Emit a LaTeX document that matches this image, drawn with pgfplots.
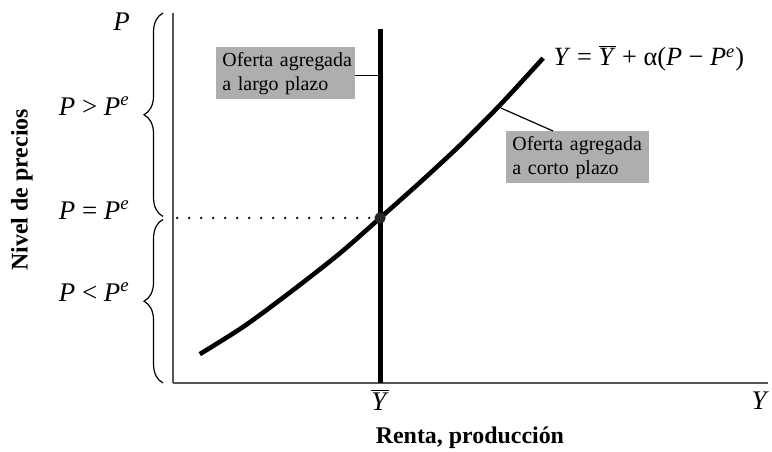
\documentclass[border=0pt]{standalone}
\usepackage{fontspec}
\setmainfont{Liberation Serif}
\usepackage{pgfplots}
\pgfplotsset{compat=1.18}
\usetikzlibrary{decorations.pathreplacing}

\definecolor{boxgray}{HTML}{AEAEAE}
\definecolor{axgray}{HTML}{555555}
\newcommand{\lab}[1]{\fontsize{13.5}{14}\selectfont #1}
\newcommand{\ybar}{$\overline{\mbox{\textit{Y}}}$}

\begin{document}
\begin{tikzpicture}
\begin{axis}[
  scale only axis,
  width=297.5bp, height=185bp,
  xmin=0, xmax=100, ymin=0, ymax=100,
  axis lines=left,
  axis line style={-, axgray, line width=0.75bp},
  xtick=\empty, ytick=\empty,
  clip=false,
]
  % short-run aggregate supply
  \addplot[black, line width=2.3bp, smooth] coordinates {
    (4.5,7.8) (12,15.4) (20,24.9) (28,35.0) (34.8,44.6) (41.5,54.2)
    (48.2,64.2) (55,75.2) (62.2,87.8)};
  % long-run aggregate supply
  \addplot[black, line width=2.5bp] coordinates {(34.8,0) (34.8,95.7)};
  % expected price level
  \addplot[black, line width=1.3bp, line cap=round, dash pattern=on 0pt off 6bp]
    coordinates {(0.7,44.6) (34.0,44.6)};
  \addplot[only marks, mark=*, mark size=2.6bp, color=black!85] coordinates {(34.8,44.6)};

  % braces on the price axis
  \draw[line width=0.6bp, decorate, decoration={brace, amplitude=9.5bp}]
    (axis cs:-1.68,45.0) -- (axis cs:-1.68,100);
  \draw[line width=0.6bp, decorate, decoration={brace, amplitude=9.5bp}]
    (axis cs:-1.68,0) -- (axis cs:-1.68,44.2);

  \begin{scope}[every node/.style={inner sep=0pt}]
  \node[anchor=east] at (axis cs:-7.2,97.6) {\lab{\textit{P}}};
  \node[anchor=east] at (axis cs:-7.2,74.9) {\lab{\textit{P} > \textit{P}\textsuperscript{\textit{e}}}};
  \node[anchor=east] at (axis cs:-7.2,46.8) {\lab{\textit{P} = \textit{P}\textsuperscript{\textit{e}}}};
  \node[anchor=east] at (axis cs:-7.2,24.6) {\lab{\textit{P} < \textit{P}\textsuperscript{\textit{e}}}};

  \node at (axis cs:34.8,-4.6) {\lab{\ybar}};
  \node at (axis cs:98.7,-4.9) {\lab{\textit{Y}}};
  \node[anchor=west] at (axis cs:63.9,87.8)
    {\fontsize{13.2}{14}\selectfont \textit{Y} = \ybar{} + α(\textit{P} − \textit{P}\textsuperscript{\textit{e}})};

  \node at (axis cs:49.9,-14.9) {\fontsize{12}{14}\selectfont\bfseries Renta, producción};
  \node[rotate=90] at (axis cs:-25.4,52.2) {\fontsize{12}{14}\selectfont\bfseries Nivel de precios};
  \end{scope}

  % labelled boxes
  \node[anchor=north west, fill=boxgray, inner xsep=3bp, inner ysep=0pt,
        text width=63.5bp, minimum height=26bp, align=left]
    at (axis cs:7.23,90.8)
    {\fontsize{10}{9.6}\selectfont \mbox{Oferta agregada}\\\mbox{a largo plazo}};
  \draw[black, line width=0.6bp] (axis cs:30.6,83.2) -- (axis cs:34.8,83.2);
  \node[anchor=north west, fill=boxgray, inner xsep=3bp, inner ysep=0pt,
        text width=65.5bp, minimum height=26bp, align=left]
    at (axis cs:55.97,68.1)
    {\fontsize{10}{9.6}\selectfont \mbox{Oferta agregada}\\\mbox{a corto plazo}};
  \draw[black, line width=0.6bp] (axis cs:63.87,68.1) -- (axis cs:55.13,74.3);

  \coordinate (bbsw) at (axis cs:-29.08,-18.65);
  \coordinate (bbne) at (axis cs:100.67,103.51);
\end{axis}
\pgfresetboundingbox
\path (bbsw) rectangle (bbne);
\end{tikzpicture}
\end{document}
